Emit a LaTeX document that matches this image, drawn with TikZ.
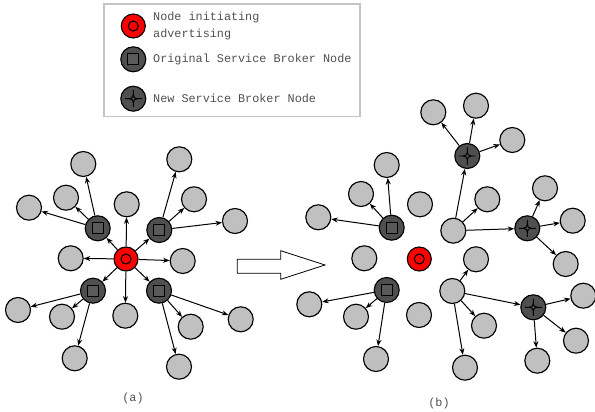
\documentclass[tikz,border=0pt]{standalone}
\usepackage{fontspec}
\setmonofont{Liberation Mono}
\usetikzlibrary{arrows.meta}
\definecolor{leafgray}{HTML}{C0C0C0}
\definecolor{brokergray}{HTML}{4F4F4F}
\definecolor{squaregray}{HTML}{5A5A5A}
\definecolor{txtgray}{HTML}{505050}
\definecolor{framegray}{HTML}{C4C4C4}
\tikzset{
  basenode/.style={circle, draw=black, line width=1.15pt, minimum size=25pt, inner sep=0pt},
  leaf/.style={basenode, fill=leafgray},
  origin/.style={basenode, fill=red, minimum size=24pt,
    path picture={\draw[line width=1.1pt] (path picture bounding box.center) circle (5pt);}},
  broker/.style={basenode, fill=brokergray,
    path picture={\draw[line width=0.9pt, fill=squaregray]
      ([shift={(-5.5pt,-5.5pt)}]path picture bounding box.center) rectangle
      ([shift={(5.5pt,5.5pt)}]path picture bounding box.center);}},
  newbroker/.style={basenode, fill=brokergray,
    path picture={\draw[line width=0.9pt, shift={(path picture bounding box.center)}]
      (0,8.5pt) .. controls (0,0) .. (8.5pt,0) .. controls (0,0) .. (0,-8.5pt)
      .. controls (0,0) .. (-8.5pt,0) .. controls (0,0) .. cycle;}},
  link/.style={line width=1pt, -{Stealth[length=6.5pt,width=5pt]}},
  caption/.style={font=\ttfamily\fontsize{11.8}{17}\selectfont, text=txtgray, inner sep=0pt}
}
\begin{document}
\begin{tikzpicture}[x=1pt,y=-1pt]
\useasboundingbox (0,0) rectangle (595,412);

% ---------- legend ----------
\draw[framegray, line width=1.2pt] (104,4) rectangle (360,116.5);
\node[origin] (legA) at (133.3,26) {};
\node[broker] (legB) at (133.3,59.3) {};
\node[newbroker] (legC) at (133.3,98.7) {};
\node[caption, anchor=west, align=left] (legAt) at (153,25.7) {Node initiating\\advertising};
\node[caption, anchor=west] (legBt) at (153,59.3) {Original Service Broker Node};
\node[caption, anchor=west] (legCt) at (153,98.7) {New Service Broker Node};

% ---------- (a) original broker tree ----------
\node[origin] (ca) at (126,259) {};
\node[broker] (ab1) at (97.7,228.3) {};
\node[broker] (ab2) at (159.3,230) {};
\node[broker] (ab3) at (93,290.7) {};
\node[broker] (ab4) at (159,290.7) {};
\node[leaf] (at) at (126.7,204.3) {};
\node[leaf] (al) at (70.7,258.3) {};
\node[leaf] (ar) at (182.7,261) {};
\node[leaf] (ad) at (125.3,315.7) {};
\node[leaf] (a11) at (83.3,164) {};
\node[leaf] (a12) at (66,197.7) {};
\node[leaf] (a13) at (29,207.7) {};
\node[leaf] (a21) at (179.3,159.3) {};
\node[leaf] (a22) at (194,199.3) {};
\node[leaf] (a23) at (235,221) {};
\node[leaf] (a31) at (18,310) {};
\node[leaf] (a32) at (62,316.7) {};
\node[leaf] (a33) at (74.7,358.3) {};
\node[leaf] (a41) at (190.7,326.7) {};
\node[leaf] (a42) at (240.7,319.3) {};
\node[leaf] (a43) at (179,366.7) {};
\foreach \t in {ab1,ab2,ab3,ab4,at,al,ar,ad} \draw[link] (ca) -- (\t);
\foreach \t in {a11,a12,a13} \draw[link] (ab1) -- (\t);
\foreach \t in {a21,a22,a23} \draw[link] (ab2) -- (\t);
\foreach \t in {a31,a32,a33} \draw[link] (ab3) -- (\t);
\foreach \t in {a41,a42,a43} \draw[link] (ab4) -- (\t);

% ---------- transition arrow ----------
\draw[line width=0.8pt, fill=white] (237.3,259.3) -- (280.7,259.3) -- (280.7,250.7)
  -- (325,265) -- (280.7,279.3) -- (280.7,273.3) -- (237.3,273.3) -- cycle;

% ---------- (b) with new brokers ----------
\node[origin] (cb) at (419.3,259) {};
\node[broker] (bb1) at (391.7,227.7) {};
\node[broker] (bb2) at (386.7,290) {};
\node[leaf] (b11) at (386.7,165) {};
\node[leaf] (b12) at (361,194) {};
\node[leaf] (b13) at (318.3,217.3) {};
\node[leaf] (b21) at (309.3,304.3) {};
\node[leaf] (b22) at (356,316.7) {};
\node[leaf] (b23) at (376,359) {};
\node[leaf] (bi1) at (364.3,258.3) {};
\node[leaf] (bi2) at (420,204.3) {};
\node[leaf] (bi3) at (419,315) {};
\node[leaf] (g1) at (453.3,230.7) {};
\node[leaf] (g2) at (452.3,291) {};
\node[newbroker] (s1) at (467.3,156) {};
\node[newbroker] (s2) at (527.3,228.3) {};
\node[newbroker] (s3) at (533.3,307.3) {};
\node[leaf] (g11) at (487.3,199.3) {};
\node[leaf] (s11) at (433.3,112.3) {};
\node[leaf] (s12) at (476,105.7) {};
\node[leaf] (s13) at (512.3,140) {};
\node[leaf] (s21) at (545,188.3) {};
\node[leaf] (s22) at (572.7,220.7) {};
\node[leaf] (s23) at (565.7,264) {};
\node[leaf] (g21) at (476,259.3) {};
\node[leaf] (g22) at (484,325.7) {};
\node[leaf] (g23) at (465,367.7) {};
\node[leaf] (s31) at (583.3,295.7) {};
\node[leaf] (s32) at (576,340.7) {};
\node[leaf] (s33) at (537.3,360.7) {};
\foreach \t in {b11,b12,b13} \draw[link] (bb1) -- (\t);
\foreach \t in {b21,b22,b23} \draw[link] (bb2) -- (\t);
\foreach \t in {s1,g11,s2} \draw[link] (g1) -- (\t);
\foreach \t in {s11,s12,s13} \draw[link] (s1) -- (\t);
\foreach \t in {s21,s22,s23} \draw[link] (s2) -- (\t);
\foreach \t in {g21,g22,g23,s3} \draw[link] (g2) -- (\t);
\foreach \t in {s31,s32,s33} \draw[link] (s3) -- (\t);

% ---------- captions ----------
\node[caption] (capa) at (133,398) {(a)};
\node[caption] (capb) at (439,403) {(b)};
\end{tikzpicture}
\end{document}
